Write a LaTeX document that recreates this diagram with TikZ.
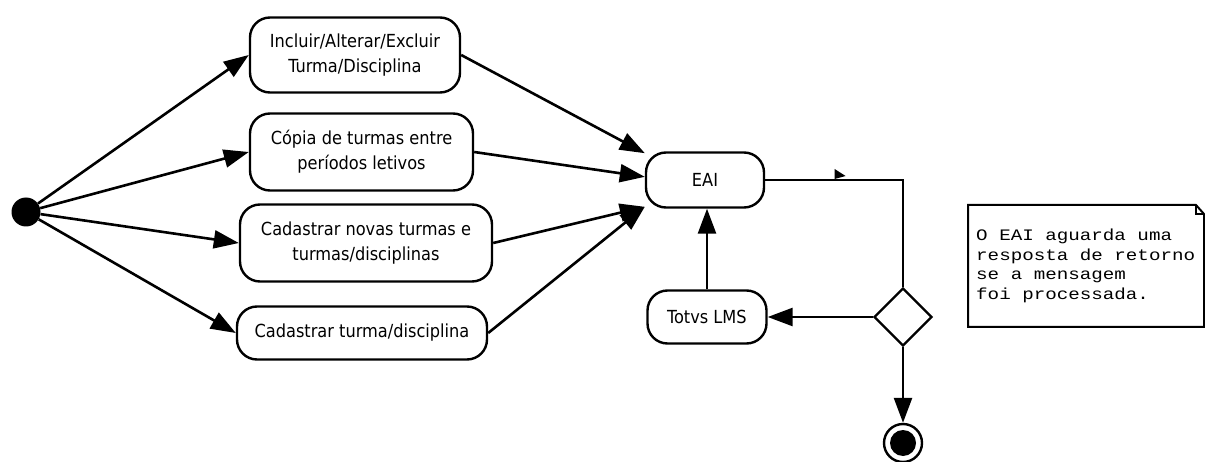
\documentclass[tikz,border=0pt]{standalone}
\usepackage{fontspec}
\setmainfont{DejaVu Sans Condensed}
\newfontfamily\notefont[FakeStretch=1.2]{Liberation Mono}
\usetikzlibrary{arrows.meta,shapes.geometric}
\begin{document}
\begin{tikzpicture}[x=1pt,y=-1pt,
  act/.style={draw,line width=2.4pt,rounded corners=20pt,align=center,inner sep=0pt,font=\fontsize{18}{25}\selectfont},
  flow/.style={line width=2.6pt,-{Triangle[length=25pt,width=18pt]}},
  plain/.style={line width=2.6pt}]
\useasboundingbox (0,0) rectangle (1205,462);
% start
\node[circle,fill=black,minimum size=29pt,inner sep=0pt] (start) at (26,212) {};
% activities
\node[act,minimum width=210pt,minimum height=75pt] (b1) at (355,55) {Incluir/Alterar/Excluir\\Turma/Disciplina};
\node[act,minimum width=223pt,minimum height=77pt] (b2) at (361.5,152) {Cópia de turmas entre\\períodos letivos};
\node[act,minimum width=252pt,minimum height=77pt] (b3) at (366,243) {Cadastrar novas turmas e\\turmas/disciplinas};
\node[act,minimum width=250pt,minimum height=53pt] (b4) at (362,333) {Cadastrar turma/disciplina};
\node[act,minimum width=118pt,minimum height=55pt] (eai) at (705,180) {EAI};
\node[act,minimum width=119pt,minimum height=53pt] (lms) at (707,317) {Totvs LMS};
\node[draw,line width=2.4pt,diamond,minimum width=58pt,minimum height=58pt,inner sep=0pt] (dia) at (903,317) {};
% final node
\node[circle,draw,line width=2.4pt,minimum size=38pt,inner sep=0pt] (fin) at (903,443) {};
\node[circle,fill=black,minimum size=26pt,inner sep=0pt] (finin) at (fin.center) {};
% flows from start
\draw[flow] (start) -- (b1.west);
\draw[flow] (start) -- (b2.west);
\draw[flow] (start) -- (b3.west);
\draw[flow] (start) -- (b4.west);
% flows to EAI
\draw[flow] (b1.east) -- (eai.156);
\draw[flow] (b2.east) -- (eai.177);
\draw[flow] (b3.east) -- (eai.204);
\draw[flow] (b4.east) -- (eai.204);
% loop
\draw[plain] (eai.east) -| coordinate[pos=0.27] (mk) (dia.north);
\fill (mk) +(-5,-11) -- +(-5,-1) -- +(6,-4) -- cycle;
\draw[flow] (dia.west) -- (lms.east);
\draw[flow] (lms.north) -- (eai.south -| lms.north);
\draw[flow] (dia.south) -- (fin.north);
% note
\draw[line width=2pt] (968,205) -- (1196,205) -- (1204,214) -- (1204,327) -- (968,327) -- cycle;
\draw[line width=1.5pt] (1196,205) -- (1196,214) -- (1204,214);
\node[anchor=north west,align=left,inner sep=0pt,font=\notefont\fontsize{16}{19.5}\selectfont] (note) at (976,229) {O EAI aguarda uma\\resposta de retorno\\se a mensagem\\foi processada.};
\end{tikzpicture}
\end{document}
